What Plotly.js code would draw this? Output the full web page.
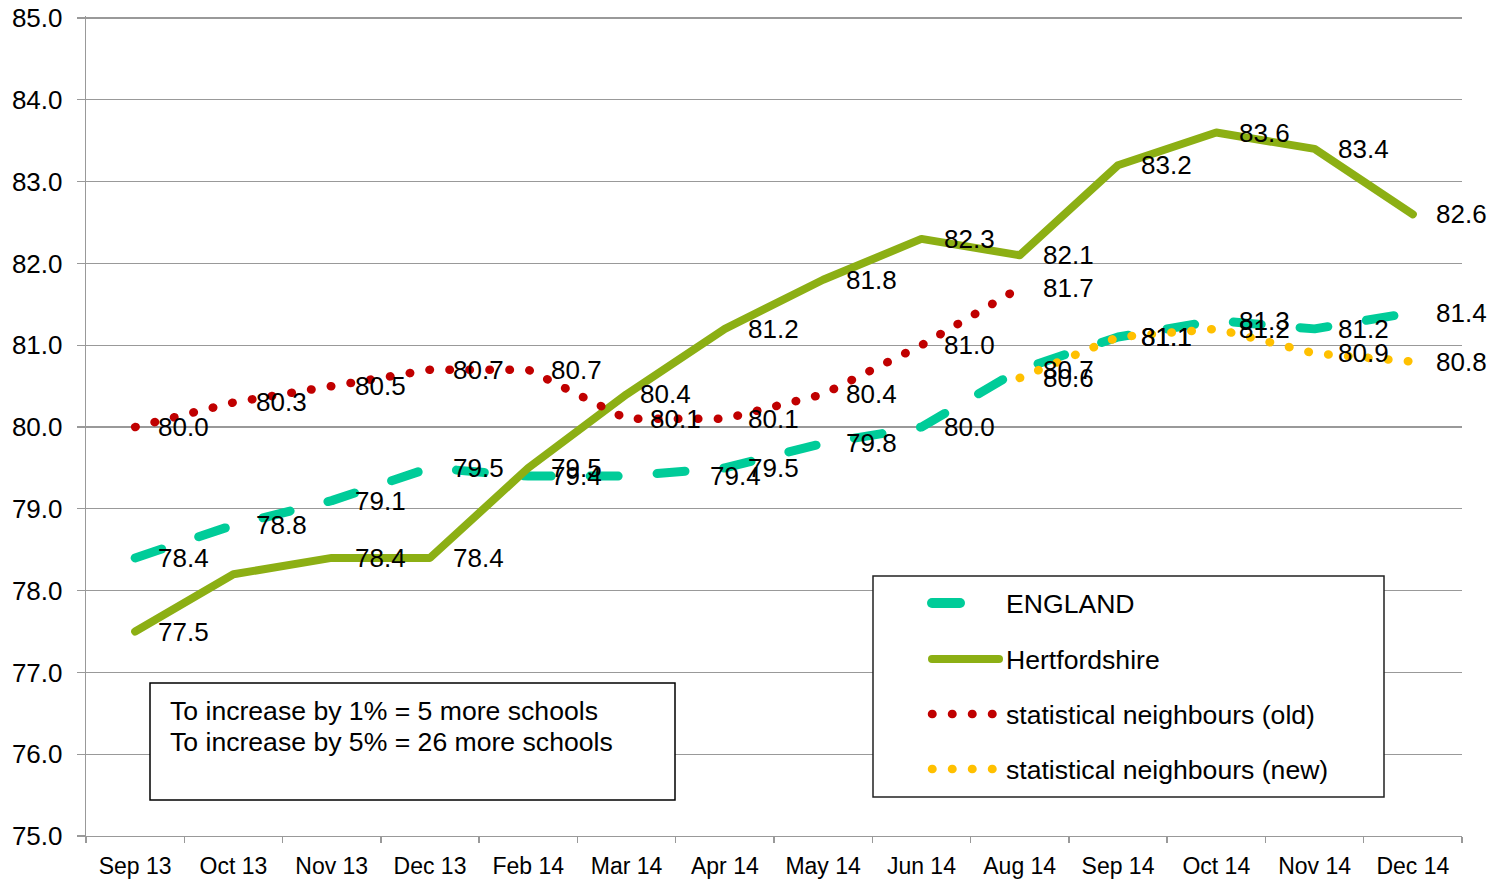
<!DOCTYPE html>
<html>
<head>
<meta charset="utf-8">
<script src="https://cdn.plot.ly/plotly-3.0.1.min.js"></script>
<style>
html, body { margin: 0; padding: 0; background: #fff; }
#chart { width: 1488px; height: 879px; }
.scatterlayer .js-line { stroke-linecap: round; stroke-linejoin: round; }
.shapelayer path { stroke-linecap: round; }
</style>
</head>
<body>
<div id="chart"></div>
<script>
// ---- data ----
const months = ["Sep 13","Oct 13","Nov 13","Dec 13","Feb 14","Mar 14","Apr 14","May 14","Jun 14","Aug 14","Sep 14","Oct 14","Nov 14","Dec 14"];
const england = [78.4, 78.8, 79.1, 79.5, 79.4, 79.4, 79.5, 79.8, 80.0, 80.7, 81.1, 81.3, 81.2, 81.4];
const herts = [77.5, 78.2, 78.4, 78.4, 79.5, 80.4, 81.2, 81.8, 82.3, 82.1, 83.2, 83.6, 83.4, 82.6];
const hertsLabelShown = [true, false, true, true, true, true, true, true, true, true, true, true, true, true];
const statOld = [80.0, 80.3, 80.5, 80.7, 80.7, 80.1, 80.1, 80.4, 81.0, 81.7, null, null, null, null];
const statNew = [null, null, null, null, null, null, null, null, null, 80.6, 81.1, 81.2, 80.9, 80.8];
const seriesNames = ["ENGLAND", "Hertfordshire", "statistical neighbours (old)", "statistical neighbours (new)"];
const noteLines = ["To increase by 1% = 5 more schools", "To increase by 5% = 26 more schools"];

// ---- styles ----
const FONT = "Liberation Sans, Arial, Helvetica, sans-serif";
const cEng = "#00CC99", cHerts = "#8CAF14", cOld = "#C00000", cNew = "#FFC000";
const dashEng = "28px,39px";
const dotDash = "0.5px,19.5px";

const traces = [
  {x: months, y: england, mode: "lines", name: seriesNames[0], line: {color: cEng, width: 9, dash: dashEng}},
  {x: months, y: herts, mode: "lines", name: seriesNames[1], line: {color: cHerts, width: 8}},
  {x: months, y: statOld, mode: "lines", name: seriesNames[2], line: {color: cOld, width: 8.5, dash: dotDash}, connectgaps: false},
  {x: months, y: statNew, mode: "lines", name: seriesNames[3], line: {color: cNew, width: 8.5, dash: dotDash}, connectgaps: false}
];

// data labels
const annotations = [];
const labelFont = {family: FONT, size: 26, color: "#000"};
function addLabels(vals, shown, overrides) {
  vals.forEach((v, i) => {
    if (v === null || (shown && !shown[i])) return;
    annotations.push({
      x: months[i], y: v, xref: "x", yref: "y",
      text: v.toFixed(1), showarrow: false,
      xanchor: "left", yanchor: "middle",
      xshift: (overrides && overrides[i] !== undefined) ? overrides[i] : 21,
      font: labelFont
    });
  });
}
addLabels(england, null, {5: 81});
addLabels(herts, hertsLabelShown, {5: 11});
addLabels(statOld, null);
addLabels(statNew, null);

// plot area geometry (pixels) for paper-coordinate helpers
const MT = 16, MB = 43, ML = 86, MR = 26, H = 879, W = 1488;
const PH = H - MT - MB, PW = W - ML - MR;
function px(x) { return (x - ML) / PW; }
function py(y) { return (H - MB - y) / PH; }

// note box
const shapes = [];
const textFont = {family: FONT, size: 26.6, color: "#000"};
shapes.push({type: "rect", xref: "paper", yref: "paper", x0: px(150), x1: px(675), y0: py(800), y1: py(683),
  line: {color: "#000", width: 1.5}, fillcolor: "#fff", layer: "above"});
noteLines.forEach((t, i) => {
  annotations.push({xref: "paper", yref: "paper", x: px(168), y: py(i === 0 ? 711 : 742),
    xanchor: "left", yanchor: "middle", text: t, showarrow: false, font: textFont});
});

// custom legend
shapes.push({type: "rect", xref: "paper", yref: "paper", x0: px(873), x1: px(1384), y0: py(797), y1: py(576),
  line: {color: "#222", width: 1.5}, fillcolor: "#fff", layer: "above"});
const legRows = [603, 659, 714, 769];
const legStyles = [
  {color: cEng, width: 10, dash: dashEng, x1: 997},
  {color: cHerts, width: 8, dash: "solid", x1: 999},
  {color: cOld, width: 8.5, dash: dotDash, x1: 995},
  {color: cNew, width: 8.5, dash: dotDash, x1: 995}
];
seriesNames.forEach((n, i) => {
  const s = legStyles[i];
  shapes.push({type: "line", xref: "paper", yref: "paper", x0: px(932), x1: px(s.x1), y0: py(legRows[i]), y1: py(legRows[i]),
    line: {color: s.color, width: s.width, dash: s.dash}, layer: "above"});
  annotations.push({xref: "paper", yref: "paper", x: px(1004), y: py(legRows[i] + 1), xanchor: "left", yanchor: "middle",
    text: n, showarrow: false, font: textFont});
});

const layout = {
  width: W, height: H,
  margin: {l: ML, r: MR, t: MT, b: MB, pad: 0},
  paper_bgcolor: "#fff", plot_bgcolor: "#fff",
  showlegend: false,
  font: {family: FONT, color: "#000"},
  xaxis: {
    type: "category", categoryarray: months, categoryorder: "array",
    range: [-0.5, months.length - 0.5],
    tickson: "boundaries", ticks: "outside", ticklen: 6, tickcolor: "#999", tickwidth: 1.3,
    showline: true, linecolor: "#999", linewidth: 1.3, showgrid: false, zeroline: false,
    tickfont: {family: FONT, size: 23, color: "#000"}, ticklabelstandoff: 9
  },
  yaxis: {
    range: [75, 85.025], dtick: 1, tick0: 75, tickformat: ".1f",
    ticks: "outside", ticklen: 8, tickcolor: "#999", tickwidth: 1.3,
    showline: true, linecolor: "#999", linewidth: 1.3,
    showgrid: true, gridcolor: "#999", gridwidth: 1.3, zeroline: false,
    tickfont: {family: FONT, size: 26, color: "#000"}, ticklabelstandoff: 9
  },
  shapes: shapes,
  annotations: annotations
};

Plotly.newPlot("chart", traces, layout, {displayModeBar: false, staticPlot: true});
</script>
</body>
</html>
